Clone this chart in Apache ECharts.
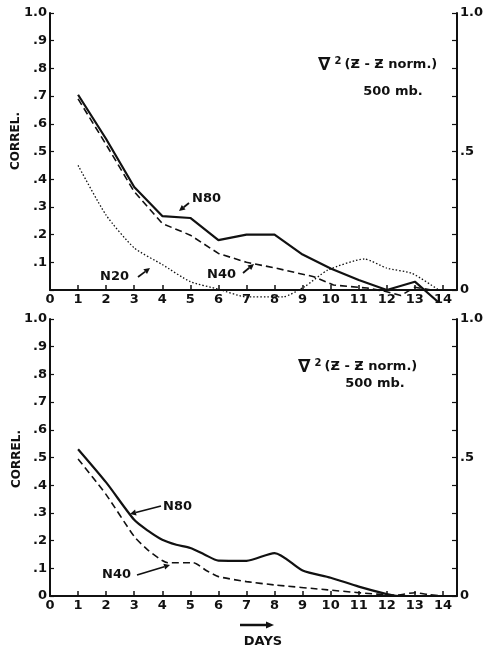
<!DOCTYPE html>
<html>
<head>
<meta charset="utf-8">
<script src="https://cdn.jsdelivr.net/npm/echarts@6/dist/echarts.min.js"></script>
<style>html,body{margin:0;padding:0;background:#fff;}#c{width:486px;height:653px;}</style>
</head>
<body>
<div id="c"></div>
<script>
// ---- data (days, correlation) ----
var topN80Days = [1, 2, 3, 4, 5, 6, 7, 8, 9, 10, 11, 12, 13, 13.85];
var topN80Vals = [0.705, 0.545, 0.372, 0.267, 0.26, 0.18, 0.2, 0.2, 0.128, 0.078, 0.036, 0.0, 0.03, -0.045];
var topN40Days = [1, 2, 3, 4, 5, 6, 7, 8, 9.4, 10.1, 11.3, 12, 12.5, 13, 13.6];
var topN40Vals = [0.69, 0.525, 0.355, 0.24, 0.198, 0.132, 0.1, 0.08, 0.048, 0.018, 0.007, -0.006, -0.02, 0.01, 0.0];
var topN20Days = [1, 2, 3, 4, 5, 6, 7, 8, 8.3, 9.07, 9.9, 11.2, 12, 12.9, 13.85];
var topN20Vals = [0.45, 0.27, 0.152, 0.092, 0.03, 0.003, -0.025, -0.025, -0.025, 0.012, 0.072, 0.112, 0.079, 0.06, 0.0];

var botN80Days = [1, 2, 3, 3.5, 4, 4.5, 5, 5.5, 6, 7, 8, 9, 10, 11, 12, 12.4, 13, 13.6, 14];
var botN80Vals = [0.53, 0.41, 0.275, 0.235, 0.203, 0.185, 0.173, 0.15, 0.128, 0.127, 0.155, 0.092, 0.066, 0.034, 0.007, 0.0, 0.0, 0.0, 0.0];
var botN40Days = [1, 2, 3, 3.5, 4, 4.2, 5.1, 5.6, 6, 7, 8, 9.9, 11, 12.3, 13, 13.5, 14];
var botN40Vals = [0.495, 0.366, 0.215, 0.165, 0.128, 0.12, 0.12, 0.09, 0.07, 0.052, 0.04, 0.022, 0.012, 0.003, 0.012, 0.005, 0.0];

var xMax = 14.5;

function pairs(xs, ys) { return xs.map(function (x, i) { return [x, ys[i]]; }); }

var FONT = '"DejaVu Sans", "Liberation Sans", sans-serif';
var black = '#111';

function xAxisCfg(gi) {
  return {
    type: 'value', gridIndex: gi, min: 0, max: xMax, interval: 1,
    axisLine: { show: true, onZero: false, lineStyle: { color: black, width: 2 } },
    axisTick: { show: true, inside: true, length: 5, lineStyle: { color: black, width: 1.5 } },
    axisLabel: {
      margin: 3, color: black, fontFamily: FONT, fontWeight: 'bold', fontSize: 13,
      formatter: function (v) { return Number.isInteger(v) ? String(v) : ''; }
    },
    splitLine: { show: false }
  };
}
function yLeftCfg(gi, showZero) {
  return {
    type: 'value', gridIndex: gi, min: 0, max: 1, interval: 0.1, position: 'left',
    axisLine: { show: true, onZero: false, lineStyle: { color: black, width: 2 } },
    axisTick: { show: true, inside: true, length: 4, lineStyle: { color: black, width: 1.2 } },
    axisLabel: {
      margin: 3, color: black, fontFamily: FONT, fontWeight: 'bold', fontSize: 13,
      formatter: function (v) {
        if (Math.abs(v - 1) < 1e-6) return '1.0';
        if (Math.abs(v) < 1e-6) return showZero ? '0' : '';
        return '.' + Math.round(v * 10);
      }
    },
    splitLine: { show: false }
  };
}
function yRightCfg(gi) {
  return {
    type: 'value', gridIndex: gi, min: 0, max: 1, interval: 0.1, position: 'right',
    axisLine: { show: true, onZero: false, lineStyle: { color: black, width: 2 } },
    axisTick: { show: true, inside: true, length: 5, lineStyle: { color: black, width: 1.2 } },
    axisLabel: {
      margin: 3, color: black, fontFamily: FONT, fontWeight: 'bold', fontSize: 13,
      formatter: function (v) {
        if (Math.abs(v - 1) < 1e-6) return '1.0';
        if (Math.abs(v - 0.5) < 1e-6) return '.5';
        if (Math.abs(v) < 1e-6) return '0';
        return '';
      }
    },
    splitLine: { show: false }
  };
}

function lineSeries(xi, yi, data, style, smooth) {
  return {
    type: 'line', xAxisIndex: xi, yAxisIndex: yi, data: data,
    symbol: 'none', clip: false, smooth: smooth || false, silent: true, animation: false,
    lineStyle: style
  };
}
var solid = { color: black, width: 2.2, type: 'solid' };
var dashed = { color: black, width: 1.6, type: [7, 4] };
var dotted = { color: black, width: 1.3, type: [1.5, 2] };

function arrow(x1, y1, x2, y2, w, hl, hw) {
  w = w || 1.8; hl = hl || 6; hw = hw || 3;
  var dx = x2 - x1, dy = y2 - y1, L = Math.sqrt(dx * dx + dy * dy);
  var ux = dx / L, uy = dy / L, px = -uy, py = ux;
  var bx = x2 - ux * hl, by = y2 - uy * hl;
  return [
    { type: 'line', shape: { x1: x1, y1: y1, x2: bx, y2: by }, style: { stroke: black, lineWidth: w }, silent: true },
    { type: 'polygon', shape: { points: [[x2, y2], [bx + px * hw, by + py * hw], [bx - px * hw, by - py * hw]] }, style: { fill: black }, silent: true }
  ];
}
function label(text, x, y, size, align) {
  return { type: 'text', x: x, y: y, silent: true,
    style: { text: text, fill: black, font: 'bold ' + (size || 13) + 'px ' + FONT, textAlign: align || 'left', textVerticalAlign: 'middle' } };
}
function formulaText(x, y) {
  return { type: 'text', x: x, y: y, silent: true,
    style: {
      text: '{n|\u2207}{s|2}{t|(\u01B5 - \u01B5 norm.)}',
      textVerticalAlign: 'middle',
      rich: {
        n: { fontSize: 18, fontWeight: 'bold', fontFamily: FONT, fill: black, color: black },
        s: { fontSize: 10, fontWeight: 'bold', fontFamily: FONT, fill: black, color: black, verticalAlign: 'top', padding: [0, 3, 7, 4] },
        t: { fontSize: 13, fontWeight: 'bold', fontFamily: FONT, fill: black, color: black }
      }
    } };
}

var graphics = [];
graphics.push({ type: 'text', x: 16, y: 141, rotation: Math.PI / 2, silent: true,
  style: { text: 'CORREL.', fill: black, font: 'bold 12px ' + FONT, textAlign: 'center', textVerticalAlign: 'middle' } });
graphics.push({ type: 'text', x: 17, y: 459, rotation: Math.PI / 2, silent: true,
  style: { text: 'CORREL.', fill: black, font: 'bold 12px ' + FONT, textAlign: 'center', textVerticalAlign: 'middle' } });
graphics.push(formulaText(318, 65));
graphics.push(label('500 mb.', 393, 92, 13, 'center'));
graphics.push(formulaText(298, 367));
graphics.push(label('500 mb.', 375, 384, 13, 'center'));
graphics.push(label('N80', 192, 199));
graphics = graphics.concat(arrow(189, 203, 179, 211));
graphics.push(label('N20', 100, 277));
graphics = graphics.concat(arrow(138, 277, 150, 268));
graphics.push(label('N40', 207, 275));
graphics = graphics.concat(arrow(243, 273, 254, 264));
graphics.push(label('N80', 163, 507));
graphics = graphics.concat(arrow(161, 506, 130, 514));
graphics.push(label('N40', 102, 575));
graphics = graphics.concat(arrow(137, 575, 170, 565));
graphics = graphics.concat(arrow(240, 625, 274, 625, 2.5, 8, 3.5));
graphics.push(label('DAYS', 263, 642, 13, 'center'));

var chart = echarts.init(document.getElementById('c'), null, { renderer: 'canvas' });
chart.setOption({
  animation: false,
  backgroundColor: '#fff',
  grid: [
    { left: 50, right: 26, top: 13, height: 277 },
    { left: 50, right: 27, top: 319, height: 277 }
  ],
  xAxis: [xAxisCfg(0), xAxisCfg(1)],
  yAxis: [yLeftCfg(0, false), yRightCfg(0), yLeftCfg(1, true), yRightCfg(1)],
  series: [
    lineSeries(0, 0, pairs(topN80Days, topN80Vals), solid),
    lineSeries(0, 0, pairs(topN40Days, topN40Vals), dashed),
    lineSeries(0, 0, pairs(topN20Days, topN20Vals), dotted, 0.2),
    lineSeries(1, 2, pairs(botN80Days, botN80Vals), solid, 0.25),
    lineSeries(1, 2, pairs(botN40Days, botN40Vals), dashed, 0.2)
  ],
  graphic: graphics
});
</script>
</body>
</html>
